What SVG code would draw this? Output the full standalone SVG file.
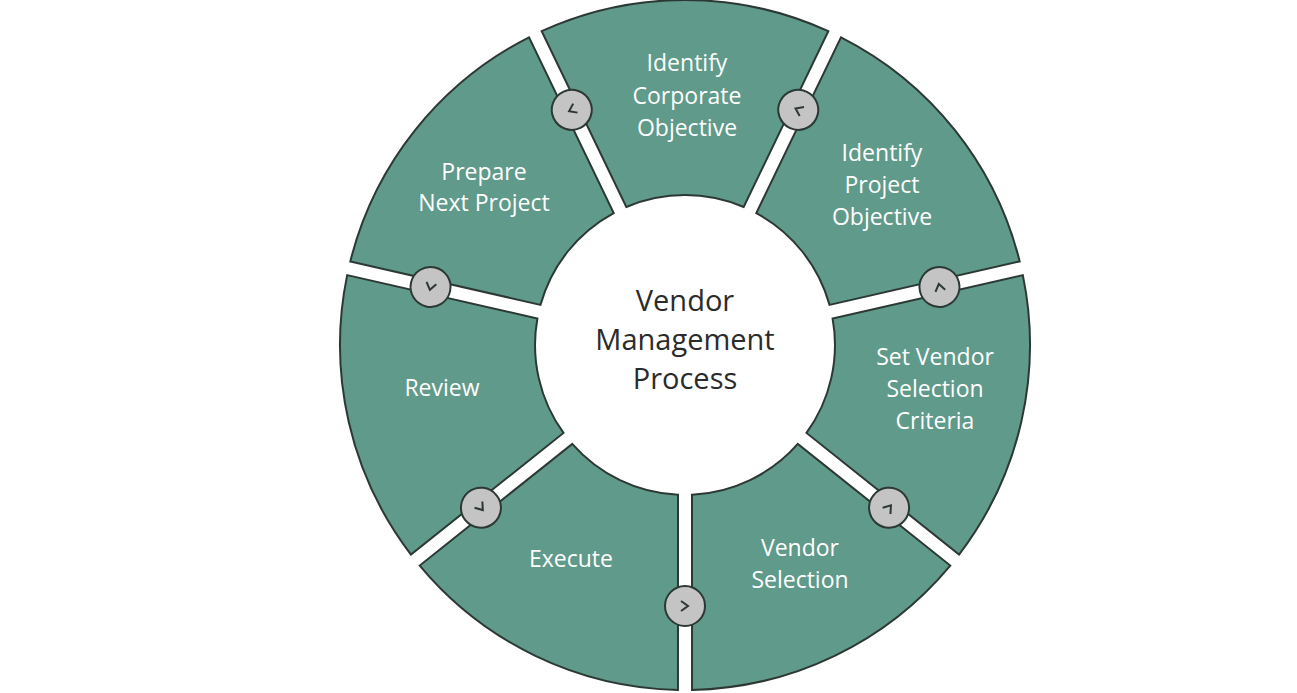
<svg xmlns="http://www.w3.org/2000/svg" width="1297" height="693" viewBox="0 0 1297 693">
<style>
.seg{fill:#5f9a8a;stroke:#2c3833;stroke-width:2}
.lbl{font-family:"Open Sans",sans-serif;font-size:23px;fill:#ffffff;text-anchor:middle;dominant-baseline:central}
.ctr{font-family:"Open Sans",sans-serif;font-size:29px;fill:#2b2b2b;text-anchor:middle;dominant-baseline:central}
.knob{fill:#c4c4c4;stroke:#2c3833;stroke-width:2}
.chev{fill:none;stroke:#2c3833;stroke-width:2}
</style>
<defs>
<path id="segp" d="M -143.3,-313.8 A 345 345 0 0 1 143.3,-313.8 L 58.7,-138 A 150 150 0 0 0 -58.7,-138 Z"/>
<g id="knobg"><circle class="knob" cx="0" cy="-261" r="20"/><path class="chev" d="M 4,-266 L -3,-261 L 4,-256"/></g>
</defs>
<rect width="1297" height="693" fill="#ffffff"/>
<g transform="translate(685,345)">
<g id="seg-corporate"><use href="#segp" class="seg"/></g>
<g id="seg-project"><use href="#segp" class="seg" transform="rotate(51.4286)"/></g>
<g id="seg-criteria"><use href="#segp" class="seg" transform="rotate(102.857)"/></g>
<g id="seg-selection"><use href="#segp" class="seg" transform="rotate(154.286)"/></g>
<g id="seg-execute"><use href="#segp" class="seg" transform="rotate(205.714)"/></g>
<g id="seg-review"><use href="#segp" class="seg" transform="rotate(257.143)"/></g>
<g id="seg-prepare"><use href="#segp" class="seg" transform="rotate(308.571)"/></g>
<g id="connectors">
<use href="#knobg" transform="rotate(25.714)"/>
<use href="#knobg" transform="rotate(77.143)"/>
<use href="#knobg" transform="rotate(128.571)"/>
<use href="#knobg" transform="rotate(180)"/>
<use href="#knobg" transform="rotate(231.429)"/>
<use href="#knobg" transform="rotate(282.857)"/>
<use href="#knobg" transform="rotate(334.286)"/>
</g>
</g>
<g id="labels">
<text class="lbl" x="687" y="62">Identify</text>
<text class="lbl" x="687" y="95">Corporate</text>
<text class="lbl" x="687" y="127">Objective</text>
<text class="lbl" x="882" y="152">Identify</text>
<text class="lbl" x="882" y="184">Project</text>
<text class="lbl" x="882" y="216">Objective</text>
<text class="lbl" x="935" y="356">Set Vendor</text>
<text class="lbl" x="935" y="388">Selection</text>
<text class="lbl" x="935" y="420">Criteria</text>
<text class="lbl" x="800" y="547">Vendor</text>
<text class="lbl" x="800" y="579">Selection</text>
<text class="lbl" x="571" y="558">Execute</text>
<text class="lbl" x="442" y="387">Review</text>
<text class="lbl" x="484" y="171">Prepare</text>
<text class="lbl" x="484" y="202">Next Project</text>
</g>
<g id="center">
<text class="ctr" x="685" y="299">Vendor</text>
<text class="ctr" x="685" y="338">Management</text>
<text class="ctr" x="685" y="377">Process</text>
</g>
</svg>
